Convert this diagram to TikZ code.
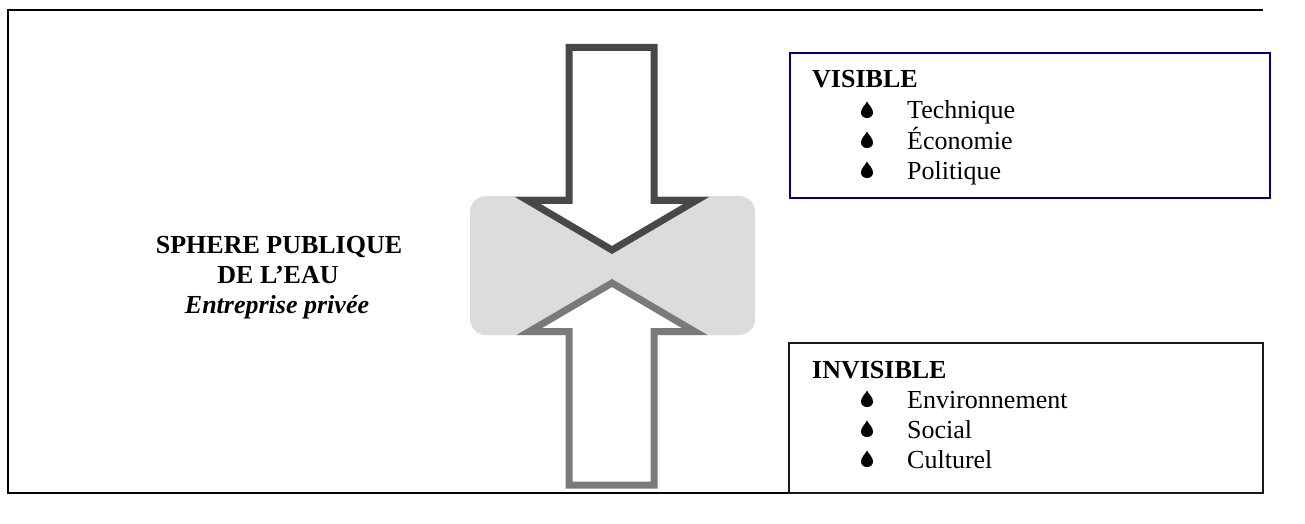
\documentclass[tikz,border=0pt]{standalone}
\usepackage{fontspec}
\setmainfont{Liberation Serif}
\begin{document}
\begin{tikzpicture}[x=1pt,y=-1pt,
  framecol/.style={draw=black,line width=2pt},
  visbox/.style={draw=navyblue,line width=2.2pt},
  invbox/.style={draw=black!90,line width=2pt},
  arrowdown/.style={draw=darkarrow,fill=white,line width=7pt,line join=miter},
  arrowup/.style={draw=lightarrow,fill=white,line width=7pt,line join=miter},
  heading/.style={font=\fontsize{26}{30}\selectfont\bfseries,anchor=base west,inner sep=0pt},
  item/.style={font=\fontsize{26}{30}\selectfont,anchor=base west,inner sep=0pt},
  sphere/.style={font=\fontsize{26}{30}\selectfont\bfseries,anchor=base,inner sep=0pt},
  waterdrop/.pic={\fill[black] (0,-8.5) .. controls (1.5,-5) and (6,-2) .. (6,2.5)
      .. controls (6,6) and (3.3,8) .. (0,8)
      .. controls (-3.3,8) and (-6,6) .. (-6,2.5)
      .. controls (-6,-2) and (-1.5,-5) .. cycle;}
]
\definecolor{navyblue}{HTML}{000080}
\definecolor{darkarrow}{HTML}{484848}
\definecolor{lightarrow}{HTML}{7A7A7A}
\definecolor{bandgray}{HTML}{DCDCDC}
\useasboundingbox (0,0) rectangle (1305,524);

% outer frame (left, top and bottom sides)
\draw[framecol] (789,493) -- (8,493) -- (8,10) -- (1263,10);

% grey band behind the arrow heads
\fill[bandgray,rounded corners=16pt] (470,196) rectangle (755,335);

% arrow pointing down
\draw[arrowdown] (569,47.5) -- (654,47.5) -- (654,200.3) -- (696.5,200.3)
  -- (612,250) -- (527.5,200.3) -- (569,200.3) -- cycle;
% arrow pointing up
\draw[arrowup] (569,485) -- (654,485) -- (654,331.7) -- (695,331.7)
  -- (612,283) -- (529,331.7) -- (569,331.7) -- cycle;

% left label
\node[sphere] (sph1) at (279,253) {SPHERE PUBLIQUE};
\node[sphere] (sph2) at (278,283) {DE L’EAU};
\node[sphere,font=\fontsize{26}{30}\selectfont\bfseries\itshape] (sph3) at (277,313) {Entreprise privée};

% VISIBLE box
\draw[visbox] (790,53) rectangle (1270,198);
\node[heading] (vis) at (812,88) {VISIBLE};
\pic at (867,110) {waterdrop};
\node[item] (v1) at (907,119) {Technique};
\pic at (867,140) {waterdrop};
\node[item] (v2) at (907,149) {Économie};
\pic at (867,170) {waterdrop};
\node[item] (v3) at (907,179) {Politique};

% INVISIBLE box
\draw[invbox] (789,343) rectangle (1263,493);
\node[heading] (inv) at (812,378) {INVISIBLE};
\pic at (867,399) {waterdrop};
\node[item] (i1) at (907,408) {Environnement};
\pic at (867,429) {waterdrop};
\node[item] (i2) at (907,438) {Social};
\pic at (867,459) {waterdrop};
\node[item] (i3) at (907,468) {Culturel};
\end{tikzpicture}
\end{document}
